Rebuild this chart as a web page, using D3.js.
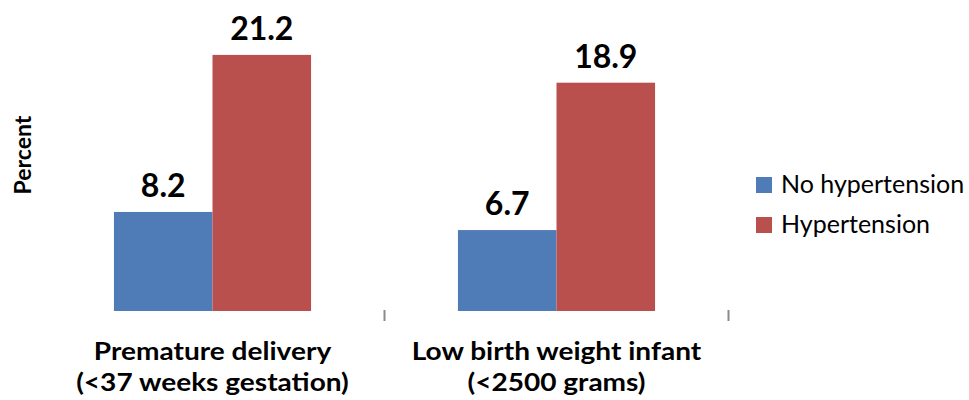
<!DOCTYPE html>
<html><head><meta charset="utf-8">
<script src="https://cdn.jsdelivr.net/npm/d3@7/dist/d3.min.js"></script>
<style>html,body{margin:0;padding:0;background:#fff;}svg{display:block;}</style>
</head><body>
<svg id="chart" width="969" height="400"></svg>
<script>
const categories = ["Premature delivery|(<37 weeks gestation)", "Low birth weight infant|(<2500 grams)"];
const seriesNames = ["No hypertension", "Hypertension"];
const noHypertension = [8.2, 6.7];
const hypertension = [21.2, 18.9];
const seriesValues = [noHypertension, hypertension];
const colors = ["#4F7CB6", "#B9504E"];

const svg = d3.select("#chart");
const font = "Lato, 'Open Sans', sans-serif";

const x0 = d3.scaleBand().domain(categories).range([40.5, 728.5]).padding(0);
const groupW = x0.bandwidth() * 0.573;
const x1 = d3.scaleBand().domain(seriesNames).range([0, groupW]).padding(0);
const y = d3.scaleLinear().domain([0, 25]).range([311, 9]);

const data = [];
categories.forEach((c, i) => seriesNames.forEach((s, j) => data.push({c, s, j, v: seriesValues[j][i]})));

const gx = c => x0(c) + (x0.bandwidth() - groupW) / 2;

svg.selectAll("rect.bar").data(data).enter().append("rect")
  .attr("class", "bar")
  .attr("x", d => gx(d.c) + x1(d.s))
  .attr("y", d => y(d.v))
  .attr("width", x1.bandwidth())
  .attr("height", d => y(0) - y(d.v))
  .attr("fill", d => colors[d.j]);

svg.selectAll("text.val").data(data).enter().append("text")
  .attr("class", "val")
  .attr("x", d => gx(d.c) + x1(d.s) + x1.bandwidth() / 2)
  .attr("y", d => y(d.v) - 15)
  .attr("text-anchor", "middle")
  .attr("font-family", font).attr("font-weight", "bold").attr("font-size", 32)
  .attr("fill", "#000")
  .text(d => d.v.toFixed(1));

// tick marks between categories
svg.selectAll("line.tick").data(categories).enter().append("line")
  .attr("class", "tick")
  .attr("x1", c => Math.round(x0(c) + x0.bandwidth()) - 0.5)
  .attr("x2", c => Math.round(x0(c) + x0.bandwidth()) - 0.5)
  .attr("y1", 310).attr("y2", 321)
  .attr("stroke", "#8a8a8a").attr("stroke-width", 2);

// category labels (one text per line)
const catLines = [];
categories.forEach(c => c.split("|").forEach((ln, k) => catLines.push({c, ln, k})));
svg.selectAll("text.cat").data(catLines).enter().append("text")
  .attr("class", "cat")
  .attr("x", d => x0(d.c) + x0.bandwidth() / 2)
  .attr("y", d => 359.5 + d.k * 31)
  .attr("text-anchor", "middle")
  .attr("font-family", font).attr("font-weight", "bold").attr("font-size", 25.5)
  .attr("fill", "#000")
  .text(d => d.ln)
  .each(function() {
    const len = this.getComputedTextLength();
    d3.select(this).attr("textLength", len * 1.1).attr("lengthAdjust", "spacingAndGlyphs");
  });

// y axis title
svg.append("text")
  .attr("transform", "translate(31,155) rotate(-90)")
  .attr("text-anchor", "middle")
  .attr("font-family", font).attr("font-weight", "bold").attr("font-size", 23)
  .attr("fill", "#000")
  .text("Percent");

// legend
const lg = svg.selectAll("g.leg").data(seriesNames).enter().append("g")
  .attr("class", "leg")
  .attr("transform", (d, i) => `translate(756,${177 + i * 40})`);
lg.append("rect").attr("width", 16).attr("height", 16).attr("fill", (d, i) => colors[i]);
lg.append("text")
  .attr("x", 25).attr("y", 15.5)
  .attr("font-family", font).attr("font-size", 25)
  .attr("fill", "#000")
  .text(d => d);
</script>
</body></html>
